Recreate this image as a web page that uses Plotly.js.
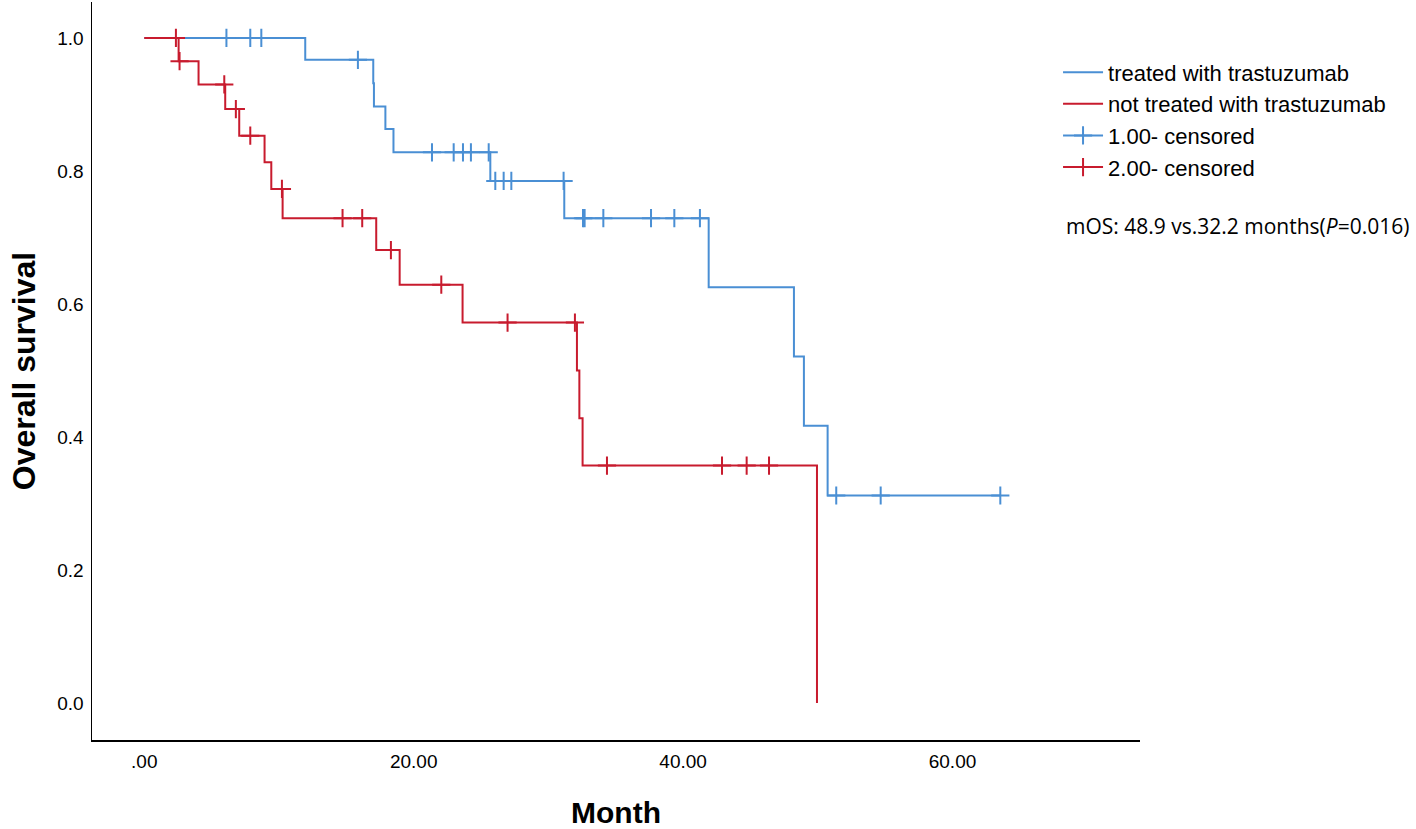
<!DOCTYPE html>
<html>
<head>
<meta charset="utf-8">
<script src="https://cdn.plot.ly/plotly-3.0.1.min.js"></script>
<style>html,body{margin:0;padding:0;background:#fff;}#chart{width:1416px;height:829px;}</style>
</head>
<body>
<div id="chart"></div>
<script>
// Kaplan-Meier step data
const treatedTime = [0, 11.95, 17.0, 17.05, 17.9, 18.5, 25.69, 31.18, 41.9, 48.23, 48.97, 50.73, 63.55];
const treatedSurv = [1.0, 0.967, 0.932, 0.897, 0.863, 0.828, 0.785, 0.729, 0.625, 0.521, 0.417, 0.312, 0.312];

const notTreatedTime = [0, 2.55, 4.03, 6.01, 7.05, 8.93, 9.43, 10.27, 17.22, 18.96, 23.63, 32.12, 32.3, 32.54, 49.94];
const notTreatedSurv = [1.0, 0.965, 0.930, 0.893, 0.853, 0.813, 0.773, 0.729, 0.681, 0.629, 0.572, 0.500, 0.428, 0.357, 0.0];

// censored observations
const treatedCensTime = [6.1, 7.87, 8.69, 15.86, 21.36, 22.97, 23.66, 24.25, 25.57, 26.06, 26.68, 27.25, 31.13, 32.57, 32.69, 34.08, 37.62, 39.35, 41.25, 51.37, 54.67, 63.55];
const treatedCensSurv = [1.0, 1.0, 1.0, 0.967, 0.828, 0.828, 0.828, 0.828, 0.828, 0.785, 0.785, 0.785, 0.785, 0.729, 0.729, 0.729, 0.729, 0.729, 0.729, 0.312, 0.312, 0.312];

const notTreatedCensTime = [2.35, 2.62, 5.94, 6.8, 7.87, 10.22, 14.72, 16.18, 18.31, 22.05, 26.97, 31.97, 34.35, 42.89, 44.72, 46.38];
const notTreatedCensSurv = [1.0, 0.965, 0.930, 0.893, 0.853, 0.773, 0.729, 0.729, 0.681, 0.629, 0.572, 0.572, 0.357, 0.357, 0.357, 0.357];

const seriesNames = ['treated with trastuzumab', 'not treated with trastuzumab', '1.00- censored', '2.00- censored'];
const xTickVals = [0, 20, 40, 60];
const xTickText = ['.00', '20.00', '40.00', '60.00'];
const yTickVals = [0, 0.2, 0.4, 0.6, 0.8, 1.0];
const yTickText = ['0.0', '0.2', '0.4', '0.6', '0.8', '1.0'];

const BLUE = '#4a8fd4';
const RED = '#c81b2e';

// separate isolated censor points with gaps so each draws only its marker
function gapped(arr) {
  const out = [];
  arr.forEach(v => { out.push(v); out.push(null); });
  return out;
}

const traces = [
  {
    x: treatedTime, y: treatedSurv, type: 'scatter', mode: 'lines',
    line: {shape: 'hv', color: BLUE, width: 2},
    name: seriesNames[0], legendrank: 1, hoverinfo: 'x+y'
  },
  {
    x: gapped(treatedCensTime), y: gapped(treatedCensSurv), type: 'scatter', mode: 'lines+markers',
    connectgaps: false,
    line: {color: BLUE, width: 2},
    marker: {symbol: 'cross-thin-open', size: 13, line: {color: BLUE, width: 2}},
    name: seriesNames[2], legendrank: 3, hoverinfo: 'x+y'
  },
  {
    x: notTreatedTime, y: notTreatedSurv, type: 'scatter', mode: 'lines',
    line: {shape: 'hv', color: RED, width: 2},
    name: seriesNames[1], legendrank: 2, hoverinfo: 'x+y'
  },
  {
    x: gapped(notTreatedCensTime), y: gapped(notTreatedCensSurv), type: 'scatter', mode: 'lines+markers',
    connectgaps: false,
    line: {color: RED, width: 2},
    marker: {symbol: 'cross-thin-open', size: 13, line: {color: RED, width: 2}},
    name: seriesNames[3], legendrank: 4, hoverinfo: 'x+y'
  }
];

const layout = {
  width: 1416, height: 829,
  margin: {l: 92, r: 276, t: 2, b: 89},
  paper_bgcolor: '#ffffff', plot_bgcolor: '#ffffff',
  font: {family: 'Liberation Sans, Arial, sans-serif', color: '#000'},
  showlegend: true,
  legend: {
    x: 0.9218, y: 0.933, xanchor: 'left', yanchor: 'top',
    font: {size: 22, color: '#000', family: 'Liberation Sans, Arial, sans-serif'},
    bgcolor: 'rgba(0,0,0,0)', traceorder: 'normal',
    itemwidth: 40
  },
  xaxis: {
    range: [-3.88, 73.92],
    tickvals: xTickVals, ticktext: xTickText,
    tickfont: {size: 19, color: '#000'},
    showgrid: false, zeroline: false,
    showline: true, linecolor: '#000', linewidth: 1.5,
    ticks: '', ticklabelstandoff: 4,
    automargin: false,
    title: {text: '<b>Month</b>', font: {size: 30, color: '#000'}, standoff: 37}
  },
  yaxis: {
    range: [-0.0556, 1.054],
    tickvals: yTickVals, ticktext: yTickText,
    tickfont: {size: 19, color: '#000'},
    showgrid: false, zeroline: false,
    showline: true, linecolor: '#000', linewidth: 1.5,
    ticks: '', ticklabelstandoff: 3,
    automargin: false,
    title: {text: '<b>Overall survival</b>', font: {size: 32, color: '#000'}, standoff: 12}
  },
  annotations: [
    {
      xref: 'paper', yref: 'paper', x: 1.0926, y: 0.6965, xanchor: 'center', yanchor: 'middle',
      text: 'mOS: 48.9 vs.32.2 months(<i>P</i>=0.016)', showarrow: false,
      font: {size: 21, color: '#000', family: 'Open Sans, sans-serif'}
    }
  ]
};

Plotly.newPlot('chart', traces, layout, {displayModeBar: false, staticPlot: true});
</script>
</body>
</html>
